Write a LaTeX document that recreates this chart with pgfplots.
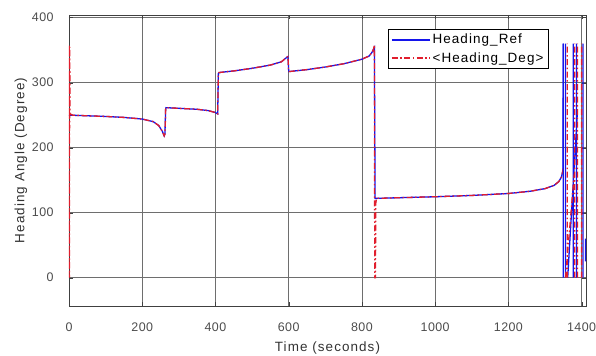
\documentclass[border=0pt]{standalone}
\usepackage{pgfplots}
\pgfplotsset{compat=1.18}
\usepackage{fontspec}
\setmainfont{Liberation Sans}[LetterSpace=8]
\definecolor{refblue}{RGB}{20,20,235}
\definecolor{degred}{RGB}{225,30,45}
\definecolor{gridgray}{RGB}{110,110,110}

\pgfplotstableread{
t v
0 250
50 249
100 248
150 246.5
200 244
230 240
245 234
255 225
260 218
262 221
264 260
265 261.5
300 260.5
350 259
380 257
400 254
406 252
408 314
410 315.5
450 318
500 322
550 327
580 332
595 339
598 340
600 318
601 317
650 320
700 324
750 329
800 336
820 341
828 347
832 352
834 354
836 122
840 122
900 123
1000 124.5
1100 126.5
1200 129.5
1260 133
1300 137
1325 142
1338 148
1345 155
1349 165
1350 360
}\headingref

% fast wrap-around of the reference heading at the end of the run
\pgfplotstableread{
t v
1350 0
1350 360
nan nan
1356 0
1356 360
nan nan
1362 0
1388 250
nan nan
1377 0
1377 360
nan nan
1386 0
1386 360
nan nan
1404 0
1404 360
nan nan
1410.5 25
1410.5 60
}\refwrap

\pgfplotstableread{
t v
0 0
0.5 358
1 0
2 355
3 252
10 250
50 249
100 248
150 246.5
200 244
230 240
245 234
255 225
260 218
262 221
263 235
264 260
265 261.5
300 260.5
350 259
380 257
400 254
406 252
407 290
408 314
410 315.5
450 318
500 322
550 327
580 332
595 339
598 340
600 318
601 317
650 320
700 324
750 329
800 336
820 341
828 347
832 352
834 358
835 0
837 0
838 115
840 122
900 123
1000 124.5
1100 126.5
1200 129.5
1260 133
1300 137
1325 142
1338 148
1345 155
1349 165
1350 170
}\headingdeg

\pgfplotstableread{
t v
1356 0
1380 160
nan nan
1361 0
1361 360
nan nan
1381 0
1381 360
nan nan
1389 0
1389 360
nan nan
1400 0
1400 360
}\degwrap

\begin{document}
\begin{tikzpicture}
\useasboundingbox (-69bp,-50bp) rectangle (527bp,306bp);
\begin{axis}[
  at={(0,0)}, anchor=south west,
  scale only axis,
  width=517bp, height=291bp,
  xmin=0, xmax=1412,
  ymin=-43.5, ymax=404,
  xtick={0,200,...,1400},
  ytick={0,100,...,400},
  grid=major,
  major grid style={gridgray, line width=0.6pt},
  axis line style={black!75, line width=0.8pt},
  tick style={black!75},
  tick align=inside,
  major tick length=4bp,
  ticklabel style={font=\fontsize{12.5}{14}\selectfont\addfontfeature{LetterSpace=3}, text=black!70},
  yticklabel style={xshift=-12bp},
  xticklabel style={yshift=-13bp},
  /pgf/number format/assume math mode=true,
  /pgf/number format/1000 sep={},
  xlabel={Time (seconds)},
  ylabel={Heading Angle (Degree)},
  label style={font=\fontsize{13.5}{15}\selectfont, text=black!80},
  xlabel style={yshift=-4bp},
  ylabel style={yshift=-2bp},
  unbounded coords=jump,
  legend cell align=left,
  legend style={at={(0.928,0.952)}, anchor=north east,
    draw=black, line width=0.6pt, fill=white,
    font=\fontsize{13.5}{15}\selectfont,
    inner xsep=3bp, inner ysep=3bp, row sep=3bp},
  legend image code/.code={\draw[#1] (0bp,0bp) -- (38bp,0bp);},
]
\addplot[refblue, line width=1.3pt] table[x=t, y=v] {\headingref};
\addlegendentry{Heading\_Ref}
\addplot[degred, line width=1.3pt, dash pattern=on 6bp off 2.5bp on 1.5bp off 2.5bp] table[x=t, y=v] {\headingdeg};
\addlegendentry{<Heading\_Deg>}
\addplot[refblue, line width=1.3pt, forget plot] table[x=t, y=v] {\refwrap};
\addplot[degred, line width=1.3pt, forget plot, dash pattern=on 6bp off 2.5bp on 1.5bp off 2.5bp] table[x=t, y=v] {\degwrap};
\end{axis}
\end{tikzpicture}
\end{document}
